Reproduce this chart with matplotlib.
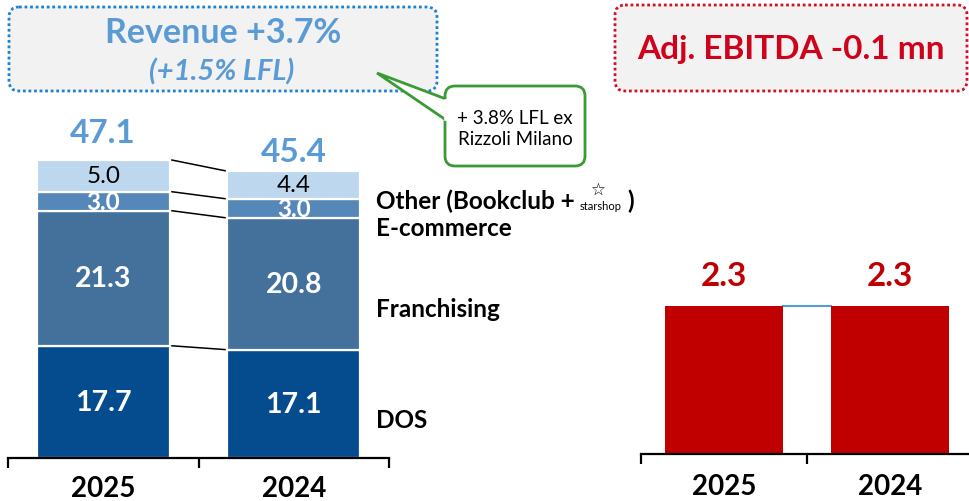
import matplotlib
matplotlib.use("Agg")
import matplotlib.pyplot as plt
from matplotlib.patches import FancyBboxPatch, Polygon
import numpy as np

plt.rcParams['font.family'] = ['Lato', 'DejaVu Sans']

# ---------------- data ----------------
years = ["2025", "2024"]
segments = ["DOS", "Franchising", "E-commerce", "Other"]
dos = [17.7, 17.1]
franchising = [21.3, 20.8]
ecommerce = [3.0, 3.0]
other = [5.0, 4.4]
revenue_totals = [47.1, 45.4]
ebitda = [2.3, 2.3]

revenue_title = "Revenue +3.7%"
revenue_sub = "(+1.5% LFL)"
callout_text = "+ 3.8% LFL ex\nRizzoli Milano"
ebitda_title = "Adj. EBITDA -0.1 mn"

# ---------------- style ----------------
W, H = 969, 502
col_dos = "#044C8E"
col_fr = "#44719C"
col_ec = "#5587B8"
col_ot = "#BDD7EE"
seg_colors = [col_dos, col_fr, col_ec, col_ot]
seg_text_colors = ["white", "white", "white", "black"]
seg_weights = ["bold", "bold", "bold", "normal"]
light_blue = "#5B9BD5"
red = "#C00000"

fig = plt.figure(figsize=(W / 100, H / 100), dpi=100)


def fx(x):
    return x / W


def fy(y):
    return 1 - y / H


# ---------------- left revenue chart ----------------
base_l = 459
left_px, right_px = 8, 389
scale_l = 6.34  # px per unit
axL = fig.add_axes([fx(left_px), fy(base_l), (right_px - left_px) / W, base_l / H])
axL.set_xlim(-0.5, 1.5)
axL.set_ylim(0, base_l / scale_l)
x = np.arange(len(years))
bw = 0.70
series = [dos, franchising, ecommerce, other]
bottom = np.zeros(len(years))
tops = []
for vals, c, tc, w in zip(series, seg_colors, seg_text_colors, seg_weights):
    vals = np.array(vals)
    axL.bar(x, vals, bw, bottom=bottom, color=c, edgecolor="white", linewidth=1.6, zorder=2)
    for xi, v, b in zip(x, vals, bottom):
        fs = 20.5 if v > 10 else 17.5
        axL.text(xi, b + v / 2, f"{v:.1f}", ha="center", va="center", color=tc,
                 fontsize=fs, fontweight=w, zorder=3)
    bottom = bottom + vals
    tops.append(bottom.copy())

# connector lines between bars
for t in tops:
    axL.plot([x[0] + bw / 2 + 0.01, x[1] - bw / 2 - 0.01], [t[0], t[1]], color="black", lw=1.1, zorder=1)

# totals
total_offsets = [4.3, 3.0]
for xi, tot, t, off in zip(x, revenue_totals, tops[-1], total_offsets):
    axL.text(xi, t + off, f"{tot:.1f}", ha="center", va="center", color=light_blue,
             fontsize=24, fontweight="bold")

for s in ["top", "left", "right"]:
    axL.spines[s].set_visible(False)
axL.spines["bottom"].set_linewidth(1.6)
axL.set_yticks([])
axL.set_xticks(x)
axL.set_xticklabels(years, fontsize=20, fontweight="bold")
axL.tick_params(axis="x", which="major", length=0, pad=12)
axL.set_xticks([-0.5, 0.5, 1.5], minor=True)
axL.tick_params(axis="x", which="minor", length=7, width=1.6, direction="out")
axL.patch.set_alpha(0)

# ---------------- right EBITDA chart ----------------
base_r = 455
r_left, r_right = 641, 973
scale_r = 148 / 2.3
axR = fig.add_axes([fx(r_left), fy(base_r), (r_right - r_left) / W, base_r / H])
axR.set_xlim(-0.5, 1.5)
axR.set_ylim(0, base_r / scale_r)
bw_r = 0.71
axR.bar(x, ebitda, bw_r, color=red, zorder=2)
axR.plot([x[0] + bw_r / 2, x[1] - bw_r / 2], [ebitda[0], ebitda[1]], color=light_blue, lw=1.5, zorder=1)
for xi, v in zip(x, ebitda):
    axR.text(xi, v + 0.48, f"{v:.1f}", ha="center", va="center", color=red, fontsize=24, fontweight="bold")
for s in ["top", "left", "right"]:
    axR.spines[s].set_visible(False)
axR.spines["bottom"].set_linewidth(1.6)
axR.set_yticks([])
axR.set_xticks(x)
axR.set_xticklabels(years, fontsize=20, fontweight="bold")
axR.tick_params(axis="x", which="major", length=0, pad=14)
axR.set_xticks([-0.5, 0.5, 1.5], minor=True)
axR.tick_params(axis="x", which="minor", length=7, width=1.6, direction="out")
axR.patch.set_alpha(0)

# ---------------- overlay annotations (pixel coordinates) ----------------
ov = fig.add_axes([0, 0, 1, 1], zorder=5)
ov.set_xlim(0, W)
ov.set_ylim(H, 0)
ov.axis("off")
ov.patch.set_alpha(0)

# revenue box
rb = FancyBboxPatch((9, 8), 428, 84, boxstyle="round,pad=0,rounding_size=10",
                    facecolor="#F2F2F2", edgecolor="#1F7FD0", linewidth=2.0,
                    linestyle=(0, (1, 1)))
ov.add_patch(rb)
ov.text(223, 33, revenue_title, ha="center", va="center", color=light_blue,
        fontsize=24.5, fontweight="bold")
ov.text(222, 72, revenue_sub, ha="center", va="center", color=light_blue,
        fontsize=21, fontweight="bold", fontstyle="italic")

# EBITDA box
eb = FancyBboxPatch((615, 6), 352, 86, boxstyle="round,pad=0,rounding_size=10",
                    facecolor="#F2F2F2", edgecolor="#D0102A", linewidth=2.0,
                    linestyle=(0, (1, 1)))
ov.add_patch(eb)
ov.text(791, 49, ebitda_title, ha="center", va="center", color="#D0021B",
        fontsize=24, fontweight="bold")

# green callout
gb = FancyBboxPatch((445, 87), 140, 80, boxstyle="round,pad=0,rounding_size=10",
                    facecolor="white", edgecolor="#3A9B35", linewidth=2.0, zorder=6)
ov.add_patch(gb)
ptr = Polygon([[446, 100], [377, 74], [446, 121]], closed=False, facecolor="white",
              edgecolor="#3A9B35", linewidth=2.0, zorder=7)
ov.add_patch(ptr)
ov.plot([446, 446], [101.5, 119.5], color="white", lw=2.6, zorder=8)
ov.text(515, 129, callout_text, ha="center", va="center", color="black",
        fontsize=13.5, linespacing=1.3, zorder=9)

# category labels
lab_x = 376
ov.text(lab_x, 201, "Other (Bookclub +", ha="left", va="center", fontsize=17.5, fontweight="bold")
ov.text(598, 190, "\u2606", ha="center", va="center", fontsize=12, family="DejaVu Sans")
ov.text(601, 207, "starshop", ha="center", va="center", fontsize=8)
ov.text(631, 201, ")", ha="center", va="center", fontsize=17.5, fontweight="bold")
ov.text(lab_x, 229, "E-commerce", ha="left", va="center", fontsize=17.5, fontweight="bold")
ov.text(lab_x, 310, "Franchising", ha="left", va="center", fontsize=17.5, fontweight="bold")
ov.text(lab_x, 421, "DOS", ha="left", va="center", fontsize=17.5, fontweight="bold")

fig.savefig("out.png", dpi=100)
